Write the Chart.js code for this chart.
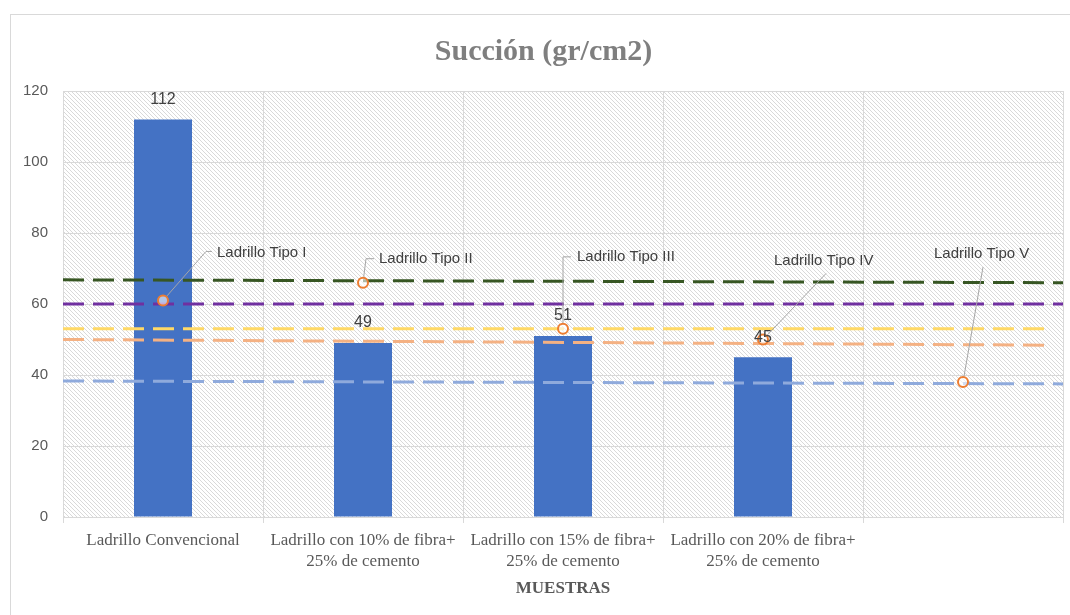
<!DOCTYPE html>
<html lang="es">
<head>
    <meta charset="UTF-8">
    <title>Succión (gr/cm2)</title>
    <script src="https://cdn.jsdelivr.net/npm/chart.js"></script>
    <style>
        * {
            margin: 0;
            padding: 0;
            box-sizing: border-box;
        }

        body {
            background: #ffffff;
            width: 1070px;
            height: 615px;
            overflow: hidden;
        }

        .chart-container {
            position: relative;
            width: 1070px;
            height: 615px;
        }
    </style>
</head>
<body>
    <div class="chart-container">
        <canvas id="succionChart"></canvas>
    </div>

    <script>
        const muestras = [
            'Ladrillo Convencional',
            ['Ladrillo con 10% de fibra+', '25% de cemento'],
            ['Ladrillo con 15% de fibra+', '25% de cemento'],
            ['Ladrillo con 20% de fibra+', '25% de cemento'],
            ''
        ];
        const succion = [112, 49, 51, 45, null];

        // reference value of each brick type (orange markers)
        const tipos = ['Ladrillo Tipo I', 'Ladrillo Tipo II', 'Ladrillo Tipo III', 'Ladrillo Tipo IV', 'Ladrillo Tipo V'];
        const succionTipo = [61, 66, 53, 50, 38];

        // dashed level lines: value at the left edge, value at the end, and where they end (in categories)
        const nivelInicio = [60, 66.8, 53, 50, 38.3];
        const nivelFin = [60, 66, 53, 48.4, 37.5];
        const nivelHasta = [5, 5, 4.92, 4.92, 5];
        const nivelColores = ['#7030a0', '#375623', '#ffd966', '#f4b183', '#8faadc'];

        const yTicks = [0, 20, 40, 60, 80, 100, 120];

        const serif = "'Liberation Serif', 'Times New Roman', serif";
        const sans = "'Liberation Sans', Arial, sans-serif";

        function hatchPattern(ctx) {
            const tile = document.createElement('canvas');
            tile.width = 4;
            tile.height = 4;
            const g = tile.getContext('2d');
            g.strokeStyle = '#d9d9d9';
            g.lineWidth = 1;
            g.beginPath();
            g.moveTo(0, 0); g.lineTo(4, 4);
            g.moveTo(-2, 2); g.lineTo(2, 6);
            g.moveTo(2, -2); g.lineTo(6, 2);
            g.stroke();
            return ctx.createPattern(tile, 'repeat');
        }

        // outer frame and hatched plot background
        const backdrop = {
            id: 'backdrop',
            beforeDraw(chart) {
                const { ctx, chartArea: a } = chart;
                ctx.save();
                ctx.strokeStyle = '#d9d9d9';
                ctx.lineWidth = 1;
                ctx.strokeRect(10.5, 14.5, 1200, 800);
                ctx.fillStyle = hatchPattern(ctx);
                ctx.fillRect(a.left, a.top, a.right - a.left, a.bottom - a.top);
                ctx.restore();
            }
        };

        // callouts for the markers and value labels over the bars
        const labels = {
            id: 'labels',
            afterDatasetsDraw(chart, args, opts) {
                const { ctx } = chart;
                ctx.save();

                const pts = chart.getDatasetMeta(opts.markerIndex).data;
                ctx.font = '15px ' + sans;
                ctx.fillStyle = '#404040';
                ctx.textBaseline = 'middle';
                ctx.textAlign = 'left';
                pts.forEach((p, i) => {
                    const c = opts.callouts[i];
                    const path = c.path.map(([dx, dy]) => [p.x + dx, p.y + dy]);
                    // start the leader at the edge of the marker
                    const [x1, y1] = path[1];
                    const len = Math.hypot(x1 - path[0][0], y1 - path[0][1]);
                    const r = 6;
                    path[0] = [path[0][0] + (x1 - path[0][0]) * r / len, path[0][1] + (y1 - path[0][1]) * r / len];
                    ctx.strokeStyle = '#a6a6a6';
                    ctx.lineWidth = 1;
                    ctx.beginPath();
                    path.forEach(([x, y], k) => k ? ctx.lineTo(x, y) : ctx.moveTo(x, y));
                    ctx.stroke();
                    ctx.fillText(tipos[i], p.x + c.text[0], p.y + c.text[1]);
                });

                const bars = chart.getDatasetMeta(opts.barIndex).data;
                ctx.font = '16px ' + sans;
                ctx.textAlign = 'center';
                bars.forEach((b, i) => {
                    if (succion[i] == null) return;
                    ctx.fillText(succion[i], b.x, b.y - 20);
                });
                ctx.restore();
            }
        };

        const niveles = nivelInicio.map((v, i) => ({
            type: 'line',
            xAxisID: 'xl',
            data: [{ x: 0, y: v }, { x: nivelHasta[i], y: nivelFin[i] }],
            borderColor: nivelColores[i],
            borderWidth: 3,
            borderDash: [21, 9],
            pointRadius: 0,
            order: 2
        }));

        const ctx = document.getElementById('succionChart').getContext('2d');
        new Chart(ctx, {
            type: 'bar',
            data: {
                labels: muestras,
                datasets: [
                    {
                        type: 'bar',
                        data: succion,
                        backgroundColor: '#4472c4',
                        grouped: false,
                        categoryPercentage: 1,
                        barPercentage: 0.29,
                        order: 3
                    },
                    {
                        type: 'line',
                        data: succionTipo,
                        showLine: false,
                        pointRadius: 5,
                        pointBorderWidth: 2,
                        pointBorderColor: '#ed7d31',
                        pointBackgroundColor: 'rgba(255,255,255,0.6)',
                        order: 1
                    },
                    ...niveles
                ]
            },
            options: {
                responsive: true,
                maintainAspectRatio: false,
                animation: false,
                layout: {
                    padding: { left: 22, right: 5, top: 0, bottom: 0 }
                },
                scales: {
                    x: {
                        type: 'category',
                        offset: true,
                        grid: { color: '#d9d9d9', offset: true, tickLength: 6 },
                        border: { color: '#d9d9d9' },
                        ticks: {
                            font: { family: serif, size: 17, lineHeight: 1.18 },
                            color: '#595959',
                            padding: 8,
                            maxRotation: 0,
                            autoSkip: false
                        },
                        title: {
                            display: true,
                            text: 'MUESTRAS',
                            font: { family: serif, size: 17, weight: 'bold' },
                            color: '#595959',
                            padding: { top: 0, bottom: 16 }
                        },
                        afterFit: s => { s.height = 98; }
                    },
                    xl: {
                        type: 'linear',
                        min: 0,
                        max: 5,
                        offset: false,
                        display: false
                    },
                    y: {
                        min: 0,
                        max: 120,
                        afterBuildTicks: s => { s.ticks = yTicks.map(v => ({ value: v })); },
                        grid: { color: '#d9d9d9', drawTicks: false },
                        border: { color: '#d9d9d9' },
                        ticks: {
                            font: { family: sans, size: 15 },
                            color: '#595959',
                            padding: 15
                        },
                        afterFit: s => { s.width = 41; }
                    }
                },
                plugins: {
                    legend: { display: false },
                    tooltip: { enabled: false },
                    title: {
                        display: true,
                        text: 'Succión (gr/cm2)',
                        font: { family: serif, size: 30, weight: 'bold' },
                        color: '#7f7f7f',
                        padding: { top: 34, bottom: 21 }
                    },
                    labels: {
                        barIndex: 0,
                        markerIndex: 1,
                        callouts: [
                            { text: [54, -48], path: [[0, 0], [43, -49], [49, -49]] },
                            { text: [16, -24], path: [[0, 0], [3, -24], [11, -24]] },
                            { text: [14, -72], path: [[0, 0], [0, -72], [8, -72]] },
                            { text: [11, -79], path: [[0, 0], [63, -66]] },
                            { text: [-29, -128], path: [[0, 0], [20, -115]] }
                        ]
                    }
                }
            },
            plugins: [backdrop, labels]
        });
    </script>
</body>
</html>
